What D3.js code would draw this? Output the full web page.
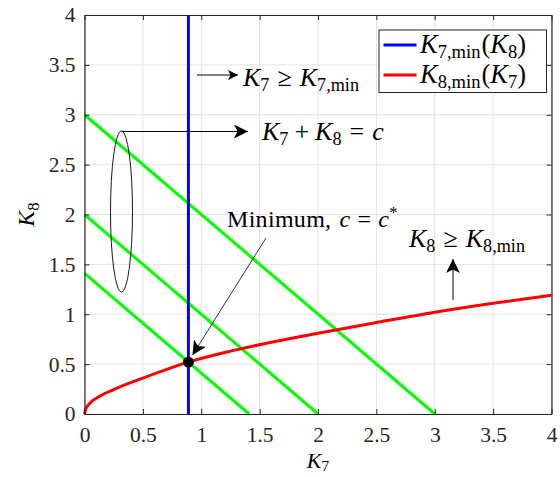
<!DOCTYPE html>
<html>
<head>
<meta charset="utf-8">
<script src="https://cdn.jsdelivr.net/npm/d3@7"></script>
<style>
  body { margin: 0; background: #fff; }
  svg { display: block; }
  .tick text { font-family: "Liberation Serif", "DejaVu Serif", serif; font-size: 21.5px; fill: #262626; }
</style>
</head>
<body>
<div id="chart"></div>
<script>
// datos
var k7Ticks = [0, 0.5, 1, 1.5, 2, 2.5, 3, 3.5, 4];
var k8Ticks = [0, 0.5, 1, 1.5, 2, 2.5, 3, 3.5, 4];
var k7min = 0.89;                  // recta vertical azul
var redK7 = [0, 0.01, 0.04, 0.133, 0.25, 0.5, 0.89, 1.25, 2, 2.5, 3, 3.5, 4];
var redK8 = [0, 0.05, 0.1, 0.18, 0.245, 0.36, 0.52, 0.63, 0.81, 0.917, 1.02, 1.11, 1.19];
var cValues = [1.41, 2, 3];       // rectas K7 + K8 = c
var minPoint = [0.89, 0.52];

// dimensiones
var W = 560, H = 477;
var margin = {top: 15, right: 8.5, bottom: 63, left: 84.5},
    width = W - margin.left - margin.right,
    height = H - margin.top - margin.bottom;

var x = d3.scaleLinear().domain([0, 4]).range([0, width]);
var y = d3.scaleLinear().domain([0, 4]).range([height, 0]);

var svg = d3.select("#chart").append("svg")
    .attr("width", W).attr("height", H);

var defs = svg.append("defs");
defs.append("marker")
    .attr("id", "head")
    .attr("viewBox", "0 0 10 10")
    .attr("refX", 10).attr("refY", 5)
    .attr("markerWidth", 10).attr("markerHeight", 10)
    .attr("markerUnits", "userSpaceOnUse")
    .attr("orient", "auto")
  .append("path")
    .attr("d", "M0,0 L10,5 L0,10 L2.5,5 Z")
    .attr("fill", "#000");
defs.append("marker")
    .attr("id", "head2")
    .attr("viewBox", "0 0 10 10")
    .attr("refX", 10).attr("refY", 5)
    .attr("markerWidth", 14).attr("markerHeight", 14)
    .attr("markerUnits", "userSpaceOnUse")
    .attr("orient", "auto")
  .append("path")
    .attr("d", "M0,0 L10,5 L0,10 L2.5,5 Z")
    .attr("fill", "#000");

var vis = svg.append("g")
    .attr("transform", "translate(" + margin.left + "," + margin.top + ")");

// grid
vis.append("g")
    .attr("class", "grid")
    .selectAll("line.gx").data(k7Ticks).enter().append("line")
    .attr("x1", function(d) { return x(d); }).attr("x2", function(d) { return x(d); })
    .attr("y1", 0).attr("y2", height)
    .attr("stroke", "#e3e3e3").attr("stroke-width", 1);
vis.append("g")
    .attr("class", "grid")
    .selectAll("line.gy").data(k8Ticks).enter().append("line")
    .attr("y1", function(d) { return y(d); }).attr("y2", function(d) { return y(d); })
    .attr("x1", 0).attr("x2", width)
    .attr("stroke", "#e3e3e3").attr("stroke-width", 1);

// lineas verdes K7 + K8 = c
vis.selectAll("line.cline").data(cValues).enter().append("line")
    .attr("class", "cline")
    .attr("x1", x(0)).attr("y1", function(d) { return y(d); })
    .attr("x2", function(d) { return x(d); }).attr("y2", y(0))
    .attr("stroke", "#00ff00").attr("stroke-width", 3);

// K8,min(K7)
var redData = redK7.map(function(d, i) { return [d, redK8[i]]; });
var valueline = d3.line()
    .x(function(d) { return x(d[0]); })
    .y(function(d) { return y(d[1]); })
    .curve(d3.curveMonotoneX);
vis.append("path")
    .attr("d", valueline(redData))
    .attr("fill", "none").attr("stroke", "#ff0000").attr("stroke-width", 3);

// K7,min(K8)
vis.append("line")
    .attr("x1", x(k7min)).attr("x2", x(k7min))
    .attr("y1", y(0)).attr("y2", y(4))
    .attr("stroke", "#0000ff").attr("stroke-width", 3);

// punto minimo
vis.append("circle")
    .attr("cx", x(minPoint[0])).attr("cy", y(minPoint[1]))
    .attr("r", 5.5).attr("fill", "#000");

// axes (caja estilo MATLAB)
function styleAxis(g) {
  g.select(".domain").attr("stroke", "#262626").attr("stroke-width", 1.2);
  g.selectAll(".tick line").attr("stroke", "#262626");
}
vis.append("g")
    .attr("transform", "translate(0," + height + ")")
    .call(d3.axisBottom(x).tickValues(k7Ticks).tickSizeInner(-5).tickSizeOuter(0).tickPadding(13)
      .tickFormat(d3.format("")))
    .call(styleAxis);
vis.append("g")
    .call(d3.axisLeft(y).tickValues(k8Ticks).tickSizeInner(-5).tickSizeOuter(0).tickPadding(9)
      .tickFormat(d3.format("")))
    .call(styleAxis);
vis.append("g")
    .call(d3.axisTop(x).tickValues(k7Ticks).tickSizeInner(-5).tickSizeOuter(0).tickFormat(""))
    .call(styleAxis);
vis.append("g")
    .attr("transform", "translate(" + width + ",0)")
    .call(d3.axisRight(y).tickValues(k8Ticks).tickSizeInner(-5).tickSizeOuter(0).tickFormat(""))
    .call(styleAxis);

// texto matematico
function mathText(parent, px, py, parts, size, anchor, subShift) {
  var shift = subShift === undefined ? 0.2 : subShift;
  var t = parent.append("text")
      .attr("x", px).attr("y", py)
      .attr("font-family", "'Liberation Serif', 'DejaVu Serif', serif")
      .attr("font-size", size)
      .attr("fill", "#000")
      .attr("text-anchor", anchor || "start");
  parts.forEach(function(p) {
    var s = t.append("tspan").text(p.t);
    if (p.i) s.attr("font-style", "italic");
    if (p.sub) s.attr("font-size", size * 0.7).attr("baseline-shift", "-" + (size * shift) + "px");
    if (p.sup) s.attr("font-size", size * 0.7).attr("baseline-shift", (size * 0.38) + "px");
    if (p.dx) s.attr("dx", p.dx);
  });
  return t;
}

// anotaciones (coordenadas absolutas del svg)
var ann = svg.append("g");

// K7 >= K7,min
ann.append("line")
    .attr("x1", 197).attr("y1", 75).attr("x2", 238).attr("y2", 75)
    .attr("stroke", "#000").attr("stroke-width", 1).attr("marker-end", "url(#head)");
mathText(ann, 243, 86, [
  {t: "K", i: true}, {t: "7", sub: true}, {t: "\u2265", dx: 8}, {t: "K", i: true, dx: 8}, {t: "7,min", sub: true}
], 26);

// elipse y K7 + K8 = c
ann.append("ellipse")
    .attr("cx", 121.5).attr("cy", 211.5).attr("rx", 11).attr("ry", 80.5)
    .attr("fill", "none").attr("stroke", "#000").attr("stroke-width", 0.9);
ann.append("line")
    .attr("x1", 121.5).attr("y1", 131.5).attr("x2", 248).attr("y2", 131.5)
    .attr("stroke", "#000").attr("stroke-width", 1).attr("marker-end", "url(#head2)");
mathText(ann, 262, 140, [
  {t: "K", i: true}, {t: "7", sub: true}, {t: "+", dx: 6}, {t: "K", i: true, dx: 6}, {t: "8", sub: true},
  {t: "=", dx: 8}, {t: "c", i: true, dx: 8}
], 26);

// Minimo
mathText(ann, 227, 227, [
  {t: "Minimum,"}, {t: "c", i: true, dx: 8}, {t: "=", dx: 7}, {t: "c", i: true, dx: 7}, {t: "*", sup: true}
], 24).attr("letter-spacing", 0.3);
ann.append("line")
    .attr("x1", 266).attr("y1", 238).attr("x2", 192.5).attr("y2", 355)
    .attr("stroke", "#000").attr("stroke-width", 0.8).attr("marker-end", "url(#head2)");

// K8 >= K8,min
mathText(ann, 409, 247, [
  {t: "K", i: true}, {t: "8", sub: true}, {t: "\u2265", dx: 8}, {t: "K", i: true, dx: 8}, {t: "8,min", sub: true}
], 26);
ann.append("line")
    .attr("x1", 453).attr("y1", 300).attr("x2", 453).attr("y2", 259)
    .attr("stroke", "#000").attr("stroke-width", 1).attr("marker-end", "url(#head2)");

// leyenda
var leg = svg.append("g");
leg.append("rect")
    .attr("x", 379).attr("y", 30).attr("width", 167.5).attr("height", 62.5)
    .attr("fill", "#fff").attr("stroke", "#262626").attr("stroke-width", 1);
var legItems = [
  {color: "#0000ff", a: "7,min", b: "8"},
  {color: "#ff0000", a: "8,min", b: "7"}
];
legItems.forEach(function(d, i) {
  var ly = 45 + i * 30;
  leg.append("line")
      .attr("x1", 383.5).attr("x2", 416.5).attr("y1", ly).attr("y2", ly)
      .attr("stroke", d.color).attr("stroke-width", 3);
  mathText(leg, 420, ly + 8, [
    {t: "K", i: true}, {t: d.a, sub: true}, {t: "(", dx: 1}, {t: "K", i: true}, {t: d.b, sub: true}, {t: ")"}
  ], 26.5);
});

// etiquetas de ejes
mathText(svg, margin.left + width / 2, 468, [{t: "K", i: true}, {t: "7", sub: true}], 22, "middle", 0.15);
var yl = svg.append("g").attr("transform", "translate(34," + (margin.top + height / 2) + ") rotate(-90)");
mathText(yl, 0, 0, [{t: "K", i: true}, {t: "8", sub: true}], 24, "middle");
</script>
</body>
</html>
